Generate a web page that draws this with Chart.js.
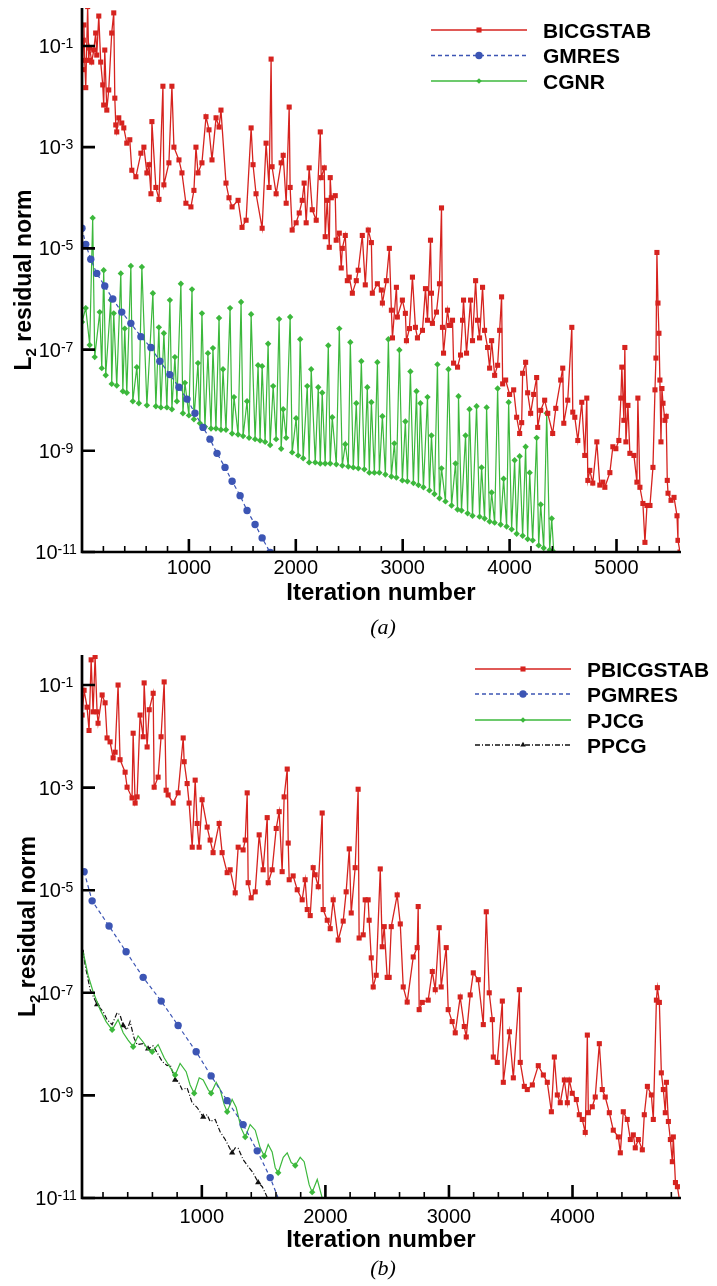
<!DOCTYPE html>
<html>
<head>
<meta charset="utf-8">
<script src="https://cdn.jsdelivr.net/npm/chart.js@4.4.0/dist/chart.umd.min.js"></script>
<style>
	html, body { margin: 0; padding: 0; background: #fff; }
	#wrap { position: relative; width: 717px; height: 1286px; }
	canvas { position: absolute; left: 0; }
	#chartA { top: 0; }
	#chartB { top: 643px; }
</style>
</head>
<body>
<div id="wrap">
	<canvas id="chartA" width="717" height="643" style="width:717px;height:643px"></canvas>
	<canvas id="chartB" width="717" height="643" style="width:717px;height:643px"></canvas>
</div>
<script>
// ---- panel (a) data: [iteration, L2 residual norm] ----
const bicgstab = [
	[5, 3.4e-2], [12, 1.3e-1], [18, 2.6e-1], [25, 5.2e-2], [35, 1.5e-2], [53, 0.6], [63, 5.2e-2], [72, 9.1e-2],
	[91, 4.8e-2], [110, 8.3e-2], [128, 1.8e-1], [138, 6.6e-2], [157, 3.9e-1], [175, 4.8e-2], [194, 1.7e-2],
	[203, 6.8e-3], [213, 8.3e-2], [232, 5.4e-3], [250, 1.35e-2], [278, 1.8e-1], [297, 4.5e-1], [307, 9.3e-3],
	[316, 2.75e-3], [325, 2.0e-3], [344, 3.8e-3], [372, 3.0e-3], [391, 2.4e-3], [419, 1.2e-3], [447, 1.4e-3],
	[466, 3.5e-4], [504, 2.6e-4], [551, 7.6e-4], [579, 1.0e-3], [607, 3.1e-4], [626, 4.5e-4], [645, 1.2e-4],
	[654, 3.2e-3], [691, 1.6e-4], [720, 9.3e-5], [757, 1.6e-2], [766, 1.8e-4], [813, 4.9e-4], [841, 1.6e-2],
	[860, 1.0e-3], [907, 5.6e-4], [935, 3.1e-4], [972, 7.8e-5], [1019, 6.6e-5], [1047, 1.4e-4], [1066, 1.0e-3],
	[1085, 3.1e-4], [1122, 4.9e-4], [1160, 4.0e-3], [1188, 2.2e-3], [1216, 5.6e-4], [1254, 3.8e-3], [1282, 2.5e-3],
	[1300, 5.4e-3], [1347, 1.95e-4], [1375, 1.0e-4], [1404, 6.6e-5], [1460, 8.9e-5], [1497, 2.6e-5], [1535, 3.6e-5],
	[1582, 2.4e-3], [1600, 4.5e-4], [1628, 1.2e-4], [1685, 2.5e-5], [1722, 1.2e-3], [1750, 1.6e-4], [1769, 5.5e-2],
	[1778, 4.1e-4], [1816, 1.2e-4], [1863, 4.9e-4], [1882, 6.9e-4], [1910, 7.8e-5], [1938, 6.2e-3], [1947, 1.6e-4],
	[1966, 2.3e-5], [2003, 3.2e-5], [2032, 5.0e-5], [2060, 8.9e-5], [2078, 1.95e-4], [2097, 3.2e-5], [2125, 3.9e-4],
	[2154, 5.8e-5], [2191, 3.6e-5], [2229, 2.0e-3], [2238, 2.5e-4], [2266, 3.9e-4], [2275, 1.7e-5], [2294, 8.9e-5],
	[2313, 1.05e-5], [2322, 2.5e-4], [2332, 1.0e-4], [2369, 1.1e-4], [2378, 1.45e-5], [2407, 2.0e-5], [2425, 4.1e-6],
	[2435, 1.0e-5], [2463, 1.8e-5], [2482, 2.3e-6], [2500, 2.7e-6], [2529, 1.3e-6], [2566, 2.3e-6], [2584, 3.7e-6],
	[2622, 1.8e-5], [2650, 1.9e-6], [2678, 2.3e-5], [2707, 1.3e-5], [2716, 1.3e-6], [2763, 2.0e-6], [2800, 1.5e-6],
	[2810, 8.3e-7], [2847, 2.3e-6], [2875, 1.0e-5], [2894, 6.0e-7], [2904, 1.7e-7], [2941, 1.7e-6], [2950, 4.4e-7],
	[2997, 9.5e-7], [3025, 5.2e-7], [3035, 1.5e-7], [3063, 2.6e-7], [3091, 2.7e-6], [3119, 2.75e-7], [3138, 1.7e-7],
	[3185, 2.4e-7], [3213, 1.6e-6], [3232, 3.8e-7], [3260, 1.45e-5], [3269, 1.3e-6], [3278, 3.3e-7], [3316, 5.5e-7],
	[3344, 2.0e-6], [3363, 6.3e-5], [3372, 2.75e-7], [3382, 8.5e-8], [3419, 6.0e-7], [3438, 3.0e-7], [3466, 3.8e-7],
	[3476, 5.4e-8], [3513, 4.5e-8], [3541, 7.8e-8], [3560, 3.8e-7], [3569, 9.5e-7], [3597, 8.5e-8], [3635, 9.5e-7],
	[3653, 1.5e-7], [3682, 2.3e-6], [3700, 3.8e-7], [3719, 1.7e-7], [3747, 1.7e-6], [3766, 2.4e-7], [3794, 1.1e-7],
	[3813, 4.3e-8], [3832, 1.5e-7], [3860, 3.1e-8], [3888, 4.9e-8], [3907, 2.4e-7], [3925, 1.1e-6], [3935, 2.1e-8],
	[3963, 2.5e-8], [4000, 1.3e-8], [4038, 1.6e-8], [4066, 4.6e-9], [4094, 2.2e-9], [4113, 3.6e-9], [4122, 3.4e-8],
	[4150, 5.6e-8], [4169, 1.4e-8], [4197, 5.5e-9], [4225, 1.3e-8], [4253, 2.8e-8], [4263, 2.9e-9], [4291, 6.3e-9],
	[4328, 1.0e-8], [4357, 5.5e-9], [4403, 2.2e-9], [4432, 6.9e-9], [4478, 2.5e-8], [4497, 4.3e-8], [4507, 3.5e-9],
	[4544, 1.0e-8], [4582, 2.75e-7], [4591, 5.8e-9], [4610, 4.6e-9], [4638, 1.6e-9], [4675, 9.1e-9], [4703, 8.1e-10],
	[4722, 1.1e-8], [4732, 2.6e-10], [4750, 4.1e-10], [4778, 2.3e-10], [4816, 1.5e-9], [4844, 2.1e-10], [4872, 2.4e-10],
	[4891, 1.9e-10], [4938, 3.7e-10], [4966, 1.2e-9], [4994, 1.1e-9], [5022, 1.6e-9], [5041, 1.1e-8], [5050, 4.5e-8],
	[5069, 4.0e-9], [5078, 1.1e-7], [5088, 1.5e-9], [5107, 7.9e-9], [5125, 8.9e-10], [5163, 8.1e-10], [5191, 2.4e-10],
	[5200, 1.1e-8], [5219, 1.9e-10], [5247, 9.1e-11], [5266, 1.55e-11], [5285, 8.3e-11], [5313, 8.3e-11], [5341, 4.7e-10],
	[5360, 1.6e-8], [5369, 6.8e-8], [5378, 8.3e-6], [5388, 8.3e-7], [5397, 2.1e-7], [5406, 2.5e-8], [5416, 1.5e-9],
	[5425, 1.7e-8], [5435, 8.7e-9], [5453, 4.0e-9], [5465, 4.8e-9], [5475, 2.6e-10], [5482, 1.45e-10], [5510, 1.05e-10],
	[5538, 1.2e-10], [5566, 5.2e-11], [5575, 1.7e-11], [5594, 1.0e-11],
]
const gmres = [
	[0, 2.5e-5], [35, 1.2e-5], [82, 6.1e-6], [138, 3.2e-6], [213, 1.8e-6], [288, 1.0e-6], [372, 5.5e-7], [457, 3.3e-7],
	[551, 1.8e-7], [645, 1.1e-7], [728, 5.9e-8], [822, 3.2e-8], [907, 1.8e-8], [982, 1.05e-8], [1057, 5.5e-9],
	[1132, 2.9e-9], [1197, 1.7e-9], [1263, 8.9e-10], [1338, 4.7e-10], [1404, 2.5e-10], [1479, 1.3e-10],
	[1544, 6.6e-11], [1619, 3.5e-11], [1685, 1.9e-11], [1760, 9.8e-12],
]
const cgnr = [
	[0, 3.5e-7], [35, 6.6e-7], [72, 1.23e-7], [100, 4.0e-5], [119, 7.1e-8], [166, 5.5e-7], [185, 4.3e-8], [203, 3.7e-6],
	[222, 3.1e-8], [269, 9.5e-7], [278, 2.1e-8], [297, 5.2e-7], [325, 1.95e-8], [363, 3.2e-6], [382, 1.5e-8], [400, 2.6e-7],
	[419, 1.4e-8], [457, 4.5e-6], [475, 9.5e-9], [513, 4.5e-8], [532, 8.7e-9], [560, 4.3e-6], [607, 7.9e-9], [663, 1.3e-6],
	[691, 7.6e-9], [719, 2.75e-7], [738, 7.2e-9], [766, 2.1e-7], [794, 7.2e-9], [822, 9.5e-7], [841, 6.6e-9], [869, 7.1e-8],
	[888, 9.5e-9], [925, 2.0e-6], [944, 5.5e-9], [963, 2.2e-8], [1000, 5.0e-9], [1029, 1.55e-6], [1047, 4.2e-9],
	[1085, 5.4e-8], [1103, 3.5e-9], [1122, 5.2e-7], [1150, 3.0e-9], [1178, 8.5e-8], [1207, 2.75e-9], [1225, 1.07e-7],
	[1253, 2.75e-9], [1282, 4.2e-7], [1300, 2.6e-9], [1319, 4.1e-8], [1347, 2.6e-9], [1385, 6.6e-7], [1404, 2.2e-9],
	[1422, 1.15e-8], [1460, 2.1e-9], [1488, 8.7e-7], [1507, 1.95e-9], [1544, 9.5e-9], [1563, 1.8e-9], [1582, 5.0e-7],
	[1619, 1.7e-9], [1647, 4.9e-8], [1666, 1.6e-9], [1685, 4.7e-8], [1713, 1.5e-9], [1741, 1.3e-7], [1760, 1.3e-9],
	[1788, 1.9e-8], [1816, 1.7e-9], [1844, 4.0e-7], [1863, 1.1e-9], [1882, 6.6e-9], [1910, 1.8e-9], [1947, 4.4e-7],
	[1966, 9.3e-10], [2003, 4.4e-9], [2022, 8.1e-10], [2041, 1.6e-7], [2069, 7.1e-10], [2107, 1.9e-8], [2125, 5.9e-10],
	[2144, 4.1e-8], [2182, 5.9e-10], [2210, 1.8e-8], [2229, 5.6e-10], [2247, 1.4e-8], [2275, 5.6e-10], [2304, 1.2e-7],
	[2322, 5.6e-10], [2341, 4.6e-9], [2379, 5.4e-10], [2407, 2.6e-7], [2435, 5.1e-10], [2463, 1.35e-9], [2491, 4.9e-10],
	[2510, 1.4e-7], [2538, 4.7e-10], [2566, 8.7e-9], [2585, 4.5e-10], [2613, 5.9e-8], [2641, 4.3e-10], [2669, 1.8e-8],
	[2688, 3.7e-10], [2707, 9.1e-9], [2735, 3.7e-10], [2763, 5.6e-8], [2782, 3.7e-10], [2810, 4.8e-9], [2838, 3.4e-10],
	[2866, 1.6e-7], [2894, 3.1e-10], [2922, 1.4e-9], [2941, 2.95e-10], [2969, 9.8e-8], [2997, 2.6e-10], [3025, 3.8e-9],
	[3044, 2.5e-10], [3072, 3.7e-8], [3100, 2.3e-10], [3129, 1.5e-8], [3147, 2.1e-10], [3166, 8.7e-9], [3194, 1.9e-10],
	[3232, 1.15e-8], [3250, 1.65e-10], [3269, 2.0e-9], [3297, 1.4e-10], [3325, 5.1e-8], [3344, 1.15e-10], [3363, 4.5e-10],
	[3400, 1.0e-10], [3428, 4.1e-8], [3457, 8.3e-11], [3494, 5.6e-10], [3513, 6.9e-11], [3522, 1.2e-8], [3550, 6.6e-11],
	[3588, 2.0e-9], [3607, 5.8e-11], [3625, 6.6e-9], [3653, 5.2e-11], [3691, 7.6e-9], [3719, 5.0e-11], [3738, 4.7e-10],
	[3766, 4.6e-11], [3785, 7.2e-9], [3813, 4.0e-11], [3832, 1.5e-10], [3860, 3.8e-11], [3888, 1.7e-8], [3916, 3.5e-11],
	[3944, 2.8e-10], [3972, 3.2e-11], [3991, 9.1e-9], [4019, 2.8e-11], [4047, 6.5e-10], [4066, 2.3e-11], [4094, 7.8e-10],
	[4122, 2.1e-11], [4150, 1.2e-9], [4169, 1.8e-11], [4188, 3.7e-10], [4216, 1.7e-11], [4253, 1.8e-9], [4272, 1.35e-11],
	[4291, 8.7e-11], [4319, 1.2e-11], [4347, 5.5e-9], [4375, 1.1e-11], [4394, 4.6e-11], [4413, 1.0e-11], [4432, 6.8e-12],
]

// ---- panel (b) data ----
const pbicgstab = [
	[31, 2.6e-2], [47, 7.9e-2], [71, 3.7e-2], [87, 1.3e-2], [104, 0.31], [120, 3.0e-2], [136, 0.36], [152, 3.0e-2],
	[160, 1.8e-2], [193, 6.4e-2], [217, 4.5e-2], [233, 9.3e-3], [257, 7.8e-3], [282, 3.8e-3], [298, 4.9e-3], [322, 0.1],
	[338, 3.5e-3], [379, 2.0e-3], [395, 1.02e-3], [435, 6.3e-4], [444, 1.15e-2], [460, 5.0e-4], [476, 6.6e-4],
	[500, 2.6e-2], [525, 9.8e-3], [533, 0.11], [557, 6.2e-3], [574, 3.3e-2], [606, 6.9e-2], [614, 1.02e-3],
	[646, 1.6e-3], [670, 9.8e-3], [695, 0.115], [711, 8.9e-4], [727, 7.2e-4], [768, 5.0e-4], [808, 7.9e-4],
	[849, 9.3e-3], [857, 3.2e-3], [881, 1.2e-3], [897, 5.0e-4], [922, 6.9e-5], [946, 1.4e-3], [962, 2.0e-4],
	[978, 6.9e-5], [1002, 5.8e-4], [1043, 1.7e-4], [1067, 9.5e-5], [1091, 5.4e-5], [1140, 2.0e-4], [1164, 5.4e-5],
	[1205, 2.2e-5], [1229, 2.5e-5], [1270, 8.9e-6], [1294, 6.9e-5], [1334, 6.1e-5], [1351, 9.5e-5], [1367, 7.9e-4],
	[1375, 1.4e-5], [1399, 7.1e-6], [1432, 9.3e-6], [1464, 1.2e-4], [1496, 2.5e-5], [1529, 2.6e-4], [1537, 1.4e-5],
	[1569, 2.5e-5], [1602, 1.6e-4], [1626, 3.4e-4], [1650, 2.3e-5], [1666, 6.6e-4], [1691, 2.3e-3], [1699, 8.3e-5],
	[1707, 1.6e-5], [1739, 1.9e-5], [1772, 1.02e-5], [1812, 6.5e-6], [1836, 1.6e-5], [1853, 4.2e-6], [1877, 3.2e-6],
	[1901, 2.75e-5], [1917, 2.0e-5], [1942, 1.17e-5], [1974, 3.2e-4], [1982, 4.2e-6], [2015, 2.6e-6], [2039, 1.78e-6],
	[2063, 6.5e-6], [2104, 1.07e-6], [2144, 2.5e-6], [2168, 9.3e-6], [2193, 6.4e-5], [2209, 3.6e-6], [2241, 2.75e-5],
	[2265, 9.3e-4], [2273, 1.17e-6], [2306, 1.35e-6], [2322, 6.5e-6], [2346, 6.5e-6], [2354, 2.6e-6], [2371, 4.8e-7],
	[2387, 1.3e-7], [2411, 2.2e-7], [2444, 2.6e-5], [2460, 7.9e-7], [2476, 1.95e-6], [2500, 2.0e-7], [2516, 2.0e-7],
	[2533, 1.95e-6], [2581, 8.1e-6], [2606, 2.2e-6], [2630, 1.3e-7], [2662, 6.6e-8], [2711, 5.0e-7], [2743, 7.6e-7],
	[2751, 4.8e-6], [2759, 4.7e-8], [2784, 6.5e-8], [2832, 7.2e-8], [2865, 2.6e-7], [2889, 1.15e-7], [2921, 1.86e-6],
	[2937, 1.3e-7], [2978, 7.6e-7], [2994, 4.7e-8], [3026, 2.75e-8], [3051, 1.66e-8], [3091, 8.3e-8], [3124, 2.2e-8],
	[3140, 1.38e-8], [3172, 9.1e-8], [3197, 2.45e-7], [3237, 1.8e-7], [3278, 2.4e-8], [3302, 3.8e-6], [3326, 1.0e-7],
	[3351, 3.0e-8], [3359, 5.6e-9], [3391, 4.4e-9], [3432, 6.9e-8], [3440, 1.8e-9], [3489, 1.74e-8], [3521, 2.2e-9],
	[3570, 1.15e-7], [3577, 4.4e-9], [3610, 1.5e-9], [3634, 1.3e-9], [3675, 1.6e-9], [3723, 3.8e-9], [3764, 2.5e-9],
	[3796, 1.8e-9], [3829, 4.8e-10], [3853, 5.6e-9], [3877, 1.02e-9], [3901, 7.2e-10], [3934, 2.0e-9], [3958, 7.2e-10],
	[3974, 2.0e-9], [3998, 1.1e-9], [4031, 8.3e-10], [4055, 4.2e-10], [4079, 3.4e-10], [4103, 1.9e-10], [4120, 1.5e-8],
	[4128, 4.6e-10], [4160, 6.0e-10], [4184, 9.3e-10], [4217, 1.02e-8], [4241, 1.3e-9], [4265, 9.3e-10], [4298, 4.6e-10],
	[4330, 2.1e-10], [4371, 1.55e-10], [4387, 7.6e-11], [4411, 4.8e-10], [4443, 3.4e-10], [4468, 1.38e-10],
	[4492, 1.7e-10], [4508, 9.5e-11], [4533, 1.38e-10], [4565, 8.7e-11], [4581, 4.2e-10], [4606, 1.5e-9],
	[4638, 1.02e-9], [4654, 3.4e-10], [4679, 7.2e-8], [4687, 1.26e-7], [4703, 6.5e-8], [4719, 2.75e-9], [4735, 1.3e-9],
	[4751, 4.6e-10], [4760, 1.8e-9], [4776, 3.1e-10], [4792, 1.38e-10], [4808, 5.1e-11], [4816, 1.55e-10],
	[4833, 2.0e-11], [4849, 1.66e-11], [4865, 9.3e-12],
]
const pgmres = [
	[47, 2.3e-5], [112, 6.2e-6], [249, 2.0e-6], [387, 6.3e-7], [525, 2.0e-7], [671, 6.9e-8], [808, 2.3e-8], [954, 7.1e-9],
	[1075, 2.4e-9], [1205, 7.9e-10], [1334, 2.7e-10], [1448, 8.3e-11], [1553, 2.5e-11], [1661, 5.4e-12],
]
const pjcg = [
	[39, 6.3e-7], [79, 2.2e-7], [120, 1.05e-7], [177, 4.7e-8], [225, 2.75e-8], [274, 1.9e-8], [322, 3.0e-8], [363, 1.66e-8],
	[403, 1.2e-8], [444, 8.9e-9], [484, 1.45e-8], [525, 1.1e-8], [565, 7.8e-9], [598, 7.1e-9], [646, 9.8e-9], [695, 5.4e-9],
	[743, 3.5e-9], [784, 2.5e-9], [824, 4.2e-9], [873, 2.9e-9], [905, 1.6e-9], [938, 1.1e-9], [979, 2.2e-9], [1011, 2.0e-9],
	[1051, 1.3e-9], [1075, 1.1e-9], [1116, 1.8e-9], [1148, 1.3e-9], [1181, 6.6e-10], [1205, 4.8e-10], [1245, 8.3e-10],
	[1278, 5.8e-10], [1318, 2.3e-10], [1351, 1.55e-10], [1391, 2.7e-10], [1432, 2.1e-10], [1472, 9.5e-11], [1505, 6.6e-11],
	[1537, 1.1e-10], [1569, 7.9e-11], [1594, 3.9e-11], [1618, 3.1e-11], [1659, 6.2e-11], [1691, 7.6e-11], [1723, 4.9e-11],
	[1756, 4.3e-11], [1796, 6.2e-11], [1828, 5.1e-11], [1869, 1.8e-11], [1893, 1.3e-11], [1934, 2.3e-11], [1974, 1.0e-11],
	[1998, 5.4e-12],
]
const ppcg = [
	[39, 6.9e-7], [55, 3.5e-7], [96, 1.15e-7], [152, 5.9e-8], [201, 4.3e-8], [233, 3.0e-8], [274, 2.4e-8], [314, 4.1e-8],
	[338, 3.7e-8], [363, 2.3e-8], [395, 1.9e-8], [419, 2.75e-8], [452, 1.3e-8], [476, 9.8e-9], [525, 1.02e-8], [565, 8.1e-9],
	[606, 9.3e-9], [638, 6.8e-9], [679, 4.6e-9], [719, 3.8e-9], [743, 4.0e-9], [784, 2.0e-9], [808, 1.9e-9], [840, 1.3e-9],
	[881, 1.4e-9], [921, 7.2e-10], [962, 5.8e-10], [1011, 3.8e-10], [1043, 4.2e-10], [1067, 3.1e-10], [1108, 3.4e-10],
	[1148, 1.95e-10], [1189, 1.38e-10], [1245, 7.6e-11], [1270, 9.5e-11], [1294, 9.3e-11], [1334, 5.6e-11], [1375, 4.1e-11],
	[1415, 3.1e-11], [1456, 2.0e-11], [1489, 1.66e-11], [1513, 1.26e-11], [1537, 9.3e-12], [1553, 5.9e-12],
]

// ---- axes ----
const yTickExps = [-1, -3, -5, -7, -9, -11]
const xMajorA = [1000, 2000, 3000, 4000, 5000]
const xMajorB = [1000, 2000, 3000, 4000]
const xMinorA = []
for (let v = 200; v <= 5400; v += 200) if (v % 1000) xMinorA.push(v)
const xMinorB = []
for (let v = 200; v <= 4800; v += 200) if (v % 1000) xMinorB.push(v)

const RED = '#d6231f'
const BLUE = '#3c55b4'
const GREEN = '#3cb83c'
const BLACK = '#111111'
const FONT = '"Liberation Sans", Arial, Helvetica, sans-serif'

function drawMark(ctx, style, x, y, r, color) {
	ctx.save()
	ctx.fillStyle = color
	ctx.beginPath()
	if (style === 'rect') {
		const s = r * Math.SQRT1_2
		ctx.rect(x - s, y - s, 2 * s, 2 * s)
	} else if (style === 'circle') {
		ctx.arc(x, y, r, 0, Math.PI * 2)
	} else if (style === 'rectRot') {
		ctx.moveTo(x, y - r); ctx.lineTo(x + r, y); ctx.lineTo(x, y + r); ctx.lineTo(x - r, y)
	} else if (style === 'triangle') {
		ctx.moveTo(x, y - r)
		ctx.lineTo(x + r * 0.866, y + r * 0.5)
		ctx.lineTo(x - r * 0.866, y + r * 0.5)
	}
	ctx.closePath()
	ctx.fill()
	ctx.restore()
}

function framePlugin(f) {
	return {
		id: 'frame',
		afterDraw(chart) {
			const { ctx, chartArea: a, scales: { x, y } } = chart
			ctx.save()
			ctx.strokeStyle = '#000'
			ctx.fillStyle = '#000'

			// axis lines, left and bottom only
			ctx.lineWidth = 2.7
			ctx.beginPath()
			ctx.moveTo(a.left, a.top)
			ctx.lineTo(a.left, a.bottom)
			ctx.lineTo(a.right + 1, a.bottom)
			ctx.stroke()

			// inward ticks
			ctx.lineWidth = 1.6
			ctx.beginPath()
			f.xMinor.forEach(v => {
				const px = x.getPixelForValue(v)
				ctx.moveTo(px, a.bottom)
				ctx.lineTo(px, a.bottom - 6)
			})
			ctx.stroke()
			ctx.lineWidth = 2.6
			ctx.beginPath()
			f.xMajor.forEach(v => {
				const px = x.getPixelForValue(v)
				ctx.moveTo(px, a.bottom)
				ctx.lineTo(px, a.bottom - 13)
			})
			yTickExps.forEach(e => {
				const py = y.getPixelForValue(Math.pow(10, e))
				ctx.moveTo(a.left, py)
				ctx.lineTo(a.left + 13, py)
			})
			ctx.stroke()

			// x tick labels
			ctx.font = '20px ' + FONT
			ctx.textAlign = 'center'
			ctx.textBaseline = 'alphabetic'
			f.xMajor.forEach(v => {
				ctx.fillText(String(v), x.getPixelForValue(v), f.xLabelY + 7)
			})

			// y tick labels 10^e
			ctx.textAlign = 'left'
			yTickExps.forEach(e => {
				const py = y.getPixelForValue(Math.pow(10, e))
				ctx.font = '20px ' + FONT
				const wb = ctx.measureText('10').width
				ctx.font = '14px ' + FONT
				const we = ctx.measureText(String(e)).width
				const x0 = 56 - (wb + we) / 2
				ctx.font = '20px ' + FONT
				ctx.fillText('10', x0, py + 7)
				ctx.font = '14px ' + FONT
				ctx.fillText(String(e), x0 + wb, py + 2)
			})

			// x title
			const cx = (a.left + a.right) / 2
			ctx.font = 'bold 24px ' + FONT
			ctx.textAlign = 'center'
			ctx.fillText('Iteration number', cx, f.titleY + 9)

			// caption
			ctx.font = 'italic 22px "Liberation Serif", "Times New Roman", serif'
			ctx.fillText(f.caption, cx + 2, f.captionY + 7)

			// y title with subscript
			ctx.save()
			ctx.translate(f.yTitleX, (a.top + a.bottom) / 2)
			ctx.rotate(-Math.PI / 2)
			const big = 'bold 23px ' + FONT
			const small = 'bold 15px ' + FONT
			ctx.font = big
			const wL = ctx.measureText('L').width
			const wRest = ctx.measureText(' residual norm').width
			ctx.font = small
			const w2 = ctx.measureText('2').width
			const t0 = -(wL + w2 + wRest) / 2
			ctx.textAlign = 'left'
			ctx.font = big
			ctx.fillText('L', t0, 0)
			ctx.font = small
			ctx.fillText('2', t0 + wL, 5)
			ctx.font = big
			ctx.fillText(' residual norm', t0 + wL + w2, 0)
			ctx.restore()

			// legend
			const L = f.legend
			chart.data.datasets.forEach((ds, i) => {
				const ry = L.rows[i]
				ctx.save()
				ctx.strokeStyle = ds.borderColor
				ctx.lineWidth = 1.4
				ctx.setLineDash(ds.borderDash || [])
				ctx.beginPath()
				ctx.moveTo(L.x0, ry)
				ctx.lineTo(L.x1, ry)
				ctx.stroke()
				ctx.restore()
				drawMark(ctx, ds.pointStyle, (L.x0 + L.x1) / 2, ry, ds.legendSize, ds.borderColor)
				ctx.font = 'bold 21px ' + FONT
				ctx.textAlign = 'left'
				ctx.fillStyle = '#000'
				ctx.fillText(ds.label, L.textX, ry + 7.5)
			})
			ctx.restore()
		},
	}
}

function makeSeries(label, points, color, style, opts) {
	return {
		label,
		data: points.map(p => ({ x: p[0], y: p[1] })),
		borderColor: color,
		backgroundColor: color,
		borderWidth: opts.width || 1.2,
		borderDash: opts.dash || [],
		pointStyle: style,
		pointRadius: ctx => (ctx.index >= (opts.start || 0) && ctx.index % opts.every === opts.offset ? opts.size : 0),
		pointBackgroundColor: color,
		pointBorderColor: color,
		pointBorderWidth: 0,
		legendSize: opts.legendSize,
		tension: 0,
		fill: false,
	}
}

function makeChart(id, datasets, cfg) {
	return new Chart(document.getElementById(id).getContext('2d'), {
		type: 'line',
		data: { datasets },
		options: {
			responsive: false,
			animation: false,
			events: [],
			layout: { padding: cfg.padding },
			plugins: {
				legend: { display: false },
				tooltip: { enabled: false },
			},
			scales: {
				x: { type: 'linear', display: false, min: cfg.xMin, max: cfg.xMax },
				y: { type: 'logarithmic', display: false, min: 1e-11, max: cfg.yMax },
			},
		},
		plugins: [framePlugin(cfg.frame)],
	})
}

window.addEventListener('DOMContentLoaded', () => {
	// Panel (a)
	makeChart('chartA', [
		makeSeries('BICGSTAB', bicgstab, RED, 'rect', { every: 1, offset: 0, size: 3.6, width: 1.3, legendSize: 3.6 }),
		makeSeries('GMRES', gmres, BLUE, 'circle', { every: 1, offset: 0, size: 3.7, dash: [4, 3], legendSize: 3.7 }),
		makeSeries('CGNR', cgnr, GREEN, 'rectRot', { every: 1, offset: 0, size: 3.2, legendSize: 2.8 }),
	], {
		padding: { left: 82, top: 8, right: 37, bottom: 91 },
		xMin: 0, xMax: 5594, yMax: 0.5623,
		frame: {
			xMajor: xMajorA, xMinor: xMinorA, xLabelY: 567, titleY: 591, captionY: 627, caption: '(a)',
			yTitleX: 31,
			legend: { x0: 431, x1: 527, textX: 543, rows: [30, 55.5, 81] },
		},
	})

	// Panel (b)
	makeChart('chartB', [
		makeSeries('PBICGSTAB', pbicgstab, RED, 'rect', { every: 1, offset: 0, size: 3.6, width: 1.3, legendSize: 3.6 }),
		makeSeries('PGMRES', pgmres, BLUE, 'circle', { every: 1, offset: 0, size: 3.7, dash: [4, 3], legendSize: 3.7 }),
		makeSeries('PJCG', pjcg, GREEN, 'rectRot', { every: 4, offset: 1, start: 5, size: 3.2, legendSize: 2.8 }),
		makeSeries('PPCG', ppcg, BLACK, 'triangle', { every: 6, offset: 3, size: 3.6, dash: [5, 2, 1, 2], legendSize: 3.2 }),
	], {
		padding: { left: 82, top: 12, right: 37, bottom: 88 },
		xMin: 30, xMax: 4870, yMax: 0.385,
		frame: {
			xMajor: xMajorB, xMinor: xMinorB, xLabelY: 573, titleY: 595, captionY: 625, caption: '(b)',
			yTitleX: 35,
			legend: { x0: 475, x1: 571, textX: 587, rows: [26, 51, 77, 102] },
		},
	})
})
</script>
</body>
</html>
